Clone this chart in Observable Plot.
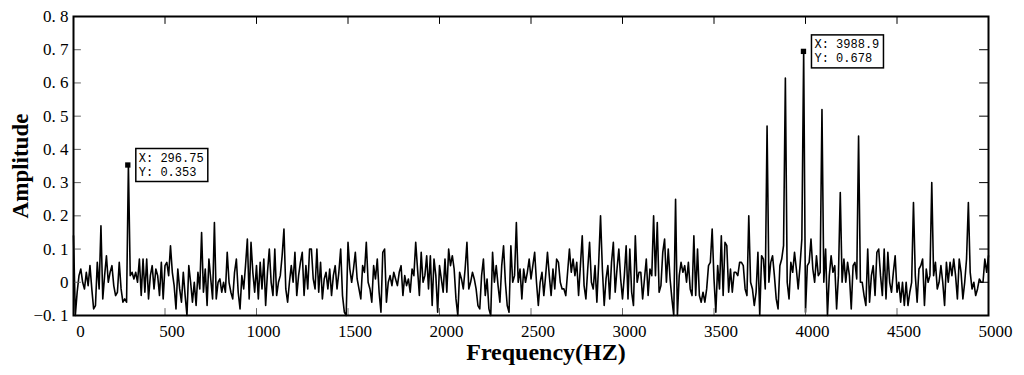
<!DOCTYPE html>
<html><head><meta charset="utf-8">
<script src="https://cdn.jsdelivr.net/npm/d3@7"></script>
<script src="https://cdn.jsdelivr.net/npm/@observablehq/plot@0.6"></script>
<style>body{margin:0;background:#fff}</style>
</head><body><div id="chart"></div>
<script>
// Spectrum sampled every 10 Hz (0 .. 5000 Hz)
const freqStep = 10;
const amplitude = [
0.14,-0.1,-0.03,0.02,0.04,0,-0.02,0.03,-0.01,0.05,
-0.02,-0.08,-0.07,0.06,-0.02,0.17,-0.05,0.02,0.08,0,
0.03,0.05,-0.01,-0.04,-0.03,0.06,-0.02,-0.06,-0.05,-0.06,
0.353,0.02,0.03,0.01,0.03,0,0.07,-0.04,0.07,-0.03,
0.07,-0.05,0.02,0.05,-0.02,0.04,0.02,-0.04,0.06,-0.05,
0.05,0.06,0.02,0.11,0.03,-0.01,-0.08,0.04,-0.02,-0.06,
0.03,-0.04,-0.1,0.05,0,-0.06,0,-0.07,0.03,-0.02,
0.15,-0.03,0.04,-0.07,0.07,0.01,-0.05,0.18,-0.05,0,
0.01,-0.03,0,-0.03,0.09,0,-0.03,-0.05,0.03,0.07,
-0.03,-0.08,0.02,-0.02,0.05,0.13,-0.05,0.12,0.03,-0.03,
0.05,-0.05,0.06,-0.02,0.07,-0.07,0.03,0.1,0,-0.04,
0.1,-0.04,0,0.02,0.08,0.16,-0.02,-0.06,0,0.05,
0,0.09,-0.04,0.02,0.06,0.09,-0.04,0.05,-0.02,0.1,
0.1,0.01,-0.02,0.1,-0.03,0.06,-0.05,0.01,0.03,-0.02,
0.04,-0.04,0.02,0.05,-0.02,0.03,0.1,-0.04,-0.09,-0.1,
0.12,0.04,0,0.04,0.09,0.01,-0.02,-0.05,0.05,0.03,
0.12,0,-0.02,-0.06,0.05,0.01,0.07,-0.03,-0.09,0.09,
0.1,-0.06,0,0.02,-0.01,0.03,0.01,-0.01,0.03,0.05,
-0.04,0.02,-0.01,0.01,-0.03,0.04,0.02,0.12,0.04,-0.04,
0.09,0,0.02,0.08,-0.02,0.08,-0.07,0.07,0.02,-0.09,
0.05,0.01,-0.03,0.07,-0.03,0.1,0.05,0.08,0.04,-0.05,
-0.1,0.03,0.01,-0.02,0.04,0.12,-0.02,0,0.03,0.01,
-0.02,-0.07,-0.08,0.02,0.07,-0.04,0.01,-0.08,-0.1,0.09,
0,0.05,-0.01,-0.06,0.05,0.11,0,-0.07,-0.09,0.11,
0,0.02,0.18,0,0.04,-0.05,0.04,0,0.03,0.07,
0.01,0.05,0.09,0,-0.07,0,0.03,-0.04,0.02,0.09,
0.02,-0.04,0.04,-0.02,0.07,0.06,0,-0.02,-0.02,-0.04,
0.03,0.1,0.03,0.07,0.02,0.06,-0.04,0.05,0.14,-0.01,
-0.05,0.04,0.12,0,-0.02,0.05,-0.06,0.06,0.2,0.04,
-0.07,0.01,0.05,-0.05,0.06,0.12,-0.03,0.04,0.1,0.01,
-0.05,0.02,0.11,-0.05,0.1,-0.03,-0.07,0.14,0,0.03,
0.03,-0.05,0.01,0.07,-0.04,0.04,0.02,0.2,0.02,0.18,
-0.03,-0.01,0.09,0.13,0,0.1,0.01,-0.05,-0.1,0.25,
-0.1,0.02,0.06,0.03,0.05,0,0.06,-0.02,-0.04,0.14,
-0.04,0.1,-0.04,-0.06,-0.03,-0.06,-0.02,0.05,0.06,0.16,
0.01,-0.09,0.05,-0.02,0.14,-0.04,0.12,0.11,-0.03,0.04,
-0.03,0.03,0.03,0.02,0.06,0.06,0.05,-0.02,-0.04,0.2,
0,-0.02,-0.07,-0.03,0.09,-0.1,0.08,0.07,-0.02,0.47,
0,0.06,0.08,0.02,-0.05,-0.08,0.05,0.07,0.11,0.615,
0,-0.05,0.06,0.03,0.09,0.04,-0.02,0.05,0.13,0.695,
-0.09,0.05,0.06,0.13,0.04,0,0.08,0.02,0.03,0.52,
0,0.1,-0.1,0.02,0.08,0.03,0.05,-0.08,0.02,0.27,
0,0.07,0,0.06,0.02,-0.08,0.05,0.06,0.01,0.44,
0,0,-0.04,-0.07,0.1,-0.06,0.02,0.05,-0.04,0.09,
0.1,0.02,-0.04,0.1,-0.05,0.09,0,-0.03,0.03,0.08,
-0.03,0,-0.06,0,-0.07,0,-0.07,-0.03,0,0.24,
0.02,-0.06,0.04,0.05,0.07,-0.07,0.04,0,0.02,0.3,
0.02,0.06,-0.02,0,0.05,0,-0.07,0.06,0,0.06,
0.02,0.07,0.02,-0.05,0.07,0.03,-0.05,0,0.07,0.24,
0.03,-0.02,0,-0.04,-0.02,0.01,0,0,0.07,0.03,
0.08
];
const xTicks = [0, 500, 1000, 1500, 2000, 2500, 3000, 3500, 4000, 4500, 5000];
const yTicks = [-0.1, 0, 0.1, 0.2, 0.3, 0.4, 0.5, 0.6, 0.7, 0.8];
const tipX = [296.75, 3988.9];
const tipY = [0.353, 0.678];
const xTitle = "Frequency(HZ)";
const yTitle = "Amplitude";

const series = amplitude.map((a, i) => ({f: i * freqStep, a}));
const tips = tipX.map((x, i) => ({
  x,
  y: amplitude[Math.round(x / freqStep)],
  lx: `X: ${x}`,
  ly: `Y: ${tipY[i]}`
}));

const fmtY = v => {
  if (Math.abs(v) < 1e-9) return "0";
  return (v < 0 ? "\u22120. " : "0. ") + Math.round(Math.abs(v) * 10);
};

// straight inward tick shape for vector marks
const tickShape = {draw(context, l) { context.moveTo(0, 0); context.lineTo(0, -l); }};
const inTicks = (data, ch, frameAnchor, rotate, length, stroke) =>
  Plot.vector(data, {[ch]: d => d, frameAnchor, rotate, length, anchor: "start",
    shape: tickShape, stroke, strokeWidth: 1});

// data-tip boxes drawn next to each marker
const boxRender = (index, scales, values, dimensions, context, next) => {
  const g = next(index, scales, values, dimensions, context);
  const X = values.x, Y = values.y;
  for (const i of index) {
    const r = d3.create("svg:rect")
      .attr("x", X[i] + 8).attr("y", Y[i] - 16.5)
      .attr("width", 72).attr("height", 33)
      .attr("fill", "white").attr("stroke", "black").attr("stroke-width", 1.5);
    g.insertBefore(r.node(), g.firstChild);
  }
  return g;
};

const mono = "Liberation Mono, DejaVu Sans Mono, monospace";
const marks = [
  Plot.line(series, {x: "f", y: "a", stroke: "black", strokeWidth: 1.6}),
  // inward ticks on all four sides
  inTicks(xTicks, "x", "bottom", 0, 7, "#666"),
  inTicks(xTicks, "x", "top", 180, 7, "black"),
  inTicks(yTicks, "y", "left", 90, 7, "#666"),
  inTicks(yTicks, "y", "right", 270, 9, "black"),
  // tick labels
  Plot.axisX({anchor: "bottom", ticks: xTicks, tickSize: 0, tickPadding: 9, dx: 7, label: null,
    tickFormat: d => String(d), fontSize: 17}),
  Plot.axisY({anchor: "left", ticks: yTicks, tickSize: 0, tickPadding: 5, label: null,
    tickFormat: fmtY, fontSize: 17}),
  Plot.frame({stroke: "black", strokeWidth: 2}),
  // axis titles
  Plot.text([yTitle], {frameAnchor: "left", dx: -53, rotate: -90, text: d => d,
    textAnchor: "middle", lineAnchor: "middle",
    fontWeight: "bold", fontSize: 23, fill: "black"}),
  Plot.text([xTitle], {frameAnchor: "bottom", dx: 15, dy: 37, text: d => d,
    textAnchor: "middle", lineAnchor: "middle",
    fontWeight: "bold", fontSize: 24, fill: "black"}),
  // data tips: marker + box + two text lines
  Plot.dot(tips, {x: "x", y: "y", symbol: "square", r: 3, fill: "black", stroke: null, render: boxRender}),
  Plot.text(tips, {x: "x", y: "y", text: "lx", textAnchor: "start", lineAnchor: "middle",
    dx: 11, dy: -7, fontFamily: mono, fontSize: 12, fill: "black"}),
  Plot.text(tips, {x: "x", y: "y", text: "ly", textAnchor: "start", lineAnchor: "middle",
    dx: 11, dy: 7, fontFamily: mono, fontSize: 12, fill: "black"})
];

const chart = Plot.plot({
  width: 1024, height: 375,
  marginLeft: 73, marginRight: 36, marginTop: 16, marginBottom: 60,
  x: {domain: [0, 5000]},
  y: {domain: [-0.1, 0.8]},
  style: {fontFamily: "Liberation Serif, Times New Roman, serif", fontSize: "17px", color: "black", background: "white"},
  marks
});
document.getElementById("chart").appendChild(chart);
</script>
</body></html>
